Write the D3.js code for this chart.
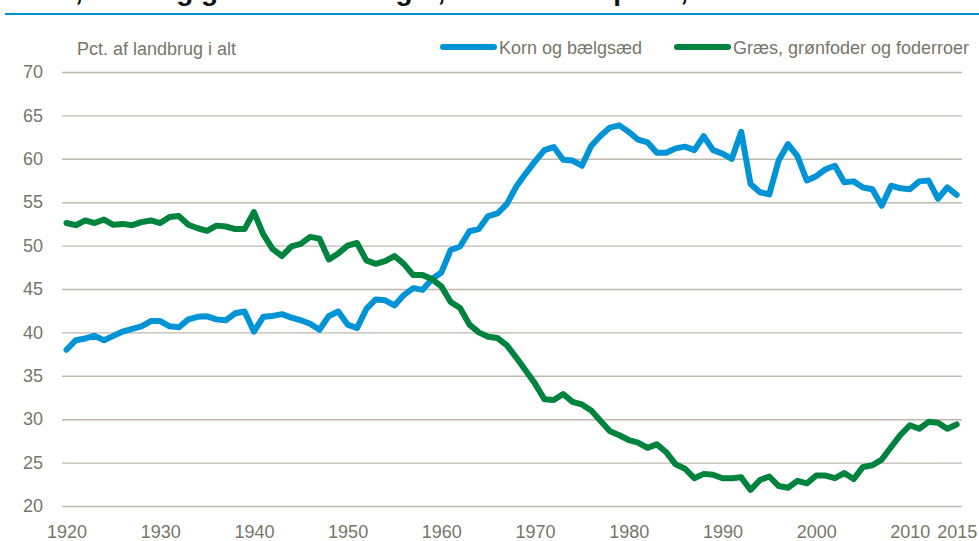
<!DOCTYPE html>
<html>
<head>
<meta charset="utf-8">
<script src="https://cdn.jsdelivr.net/npm/d3@7/dist/d3.min.js"></script>
<style>
  body { margin: 0; background: #fff; }
  svg { display: block; }
  text { font-family: "Liberation Sans Narrow", "Arial Narrow", "Liberation Sans", sans-serif; fill: #76766a; }
  .title { font-family: "Liberation Sans", Arial, sans-serif; font-weight: bold; fill: #111; }
</style>
</head>
<body>
<svg id="chart" width="979" height="541"></svg>
<script>
  // andel af landbrugsarealet, pct., 1920-2015
  var firstYear = 1920, lastYear = 2015;
  var years = d3.range(firstYear, lastYear + 1);

  var korn = [
    38.0, 39.1, 39.3, 39.6, 39.1, 39.6, 40.1, 40.4, 40.7, 41.3,
    41.3, 40.7, 40.6, 41.5, 41.8, 41.85, 41.5, 41.4, 42.2, 42.4,
    40.1, 41.8, 41.9, 42.1, 41.7, 41.4, 41.0, 40.3, 41.9, 42.4,
    40.9, 40.5, 42.7, 43.8, 43.7, 43.1, 44.3, 45.1, 44.9, 46.15,
    46.9, 49.5, 49.9, 51.65, 51.9, 53.4, 53.7, 54.8, 56.8, 58.3,
    59.7, 61.0, 61.35, 59.9, 59.8, 59.2, 61.5, 62.65, 63.6, 63.85,
    63.1, 62.2, 61.9, 60.7, 60.7, 61.2, 61.4, 61.0, 62.6, 61.0,
    60.6, 60.0, 63.1, 57.1, 56.15, 55.9, 59.8, 61.7, 60.3, 57.5,
    58.0, 58.8, 59.2, 57.3, 57.4, 56.7, 56.5, 54.6, 56.9, 56.6,
    56.5, 57.4, 57.5, 55.4, 56.7, 55.85
  ];

  var graes = [
    52.6, 52.35, 52.9, 52.6, 53.0, 52.4, 52.5, 52.35, 52.7, 52.9,
    52.6, 53.3, 53.4, 52.4, 52.0, 51.7, 52.3, 52.2, 51.9, 51.9,
    53.85, 51.3, 49.6, 48.8, 49.9, 50.2, 51.0, 50.8, 48.4, 49.1,
    50.0, 50.3, 48.3, 47.9, 48.2, 48.8, 47.9, 46.6, 46.6, 46.15,
    45.3, 43.5, 42.8, 40.9, 40.0, 39.5, 39.35, 38.5, 37.1, 35.6,
    34.1, 32.3, 32.2, 32.9, 32.0, 31.7, 31.0, 29.8, 28.6, 28.15,
    27.6, 27.3, 26.7, 27.1, 26.2, 24.8, 24.3, 23.2, 23.7, 23.6,
    23.2, 23.2, 23.3, 21.85, 23.0, 23.4, 22.3, 22.1, 22.9, 22.6,
    23.5, 23.5, 23.2, 23.8, 23.1, 24.5, 24.7, 25.35, 26.8, 28.2,
    29.3, 28.9, 29.7, 29.6, 28.9, 29.4
  ];

  var seriesNames = ["Korn og bælgsæd", "Græs, grønfoder og foderroer"];
  var seriesColors = ["#0093d5", "#00843d"];
  var xTicks = [1920, 1930, 1940, 1950, 1960, 1970, 1980, 1990, 2000, 2010, 2015];
  var yTicks = [20, 25, 30, 35, 40, 45, 50, 55, 60, 65, 70];
  var unitLabel = "Pct. af landbrug i alt";
  var titleText = "Areal, korn og græs i landbruget, anvendelse pr. år, 1920-2015";

  var svg = d3.select("#chart");

  var gridLeft = 62, gridRight = 962;
  var x = d3.scaleLinear().domain([firstYear, lastYear]).range([66.5, 956.7]);
  var y = d3.scaleLinear().domain([20, 70]).range([506, 72]);

  // title: only its lower edge shows above the rule, as in the source
  svg.append("text")
    .attr("class", "title")
    .attr("x", 5)
    .attr("y", -0.5)
    .style("font-size", "28px")
    .text(titleText);

  svg.append("line")
    .attr("x1", 5).attr("x2", 979)
    .attr("y1", 14).attr("y2", 14)
    .attr("stroke", "#0090d0")
    .attr("stroke-width", 2.2);

  // y axis with grid
  var yAxis = svg.append("g")
    .attr("transform", "translate(" + gridLeft + ",0)")
    .call(d3.axisLeft(y)
      .tickValues(yTicks)
      .tickSize(-(gridRight - gridLeft))
      .tickPadding(19));

  yAxis.select(".domain").remove();
  yAxis.selectAll(".tick line")
    .attr("stroke", "#bdb9ae")
    .attr("stroke-width", 1.4);
  yAxis.selectAll(".tick text")
    .attr("fill", null)
    .style("font-size", "18px");

  // x axis labels
  var xAxis = svg.append("g")
    .attr("transform", "translate(0,506)")
    .call(d3.axisBottom(x)
      .tickValues(xTicks)
      .tickFormat(d3.format("d"))
      .tickSize(0)
      .tickPadding(19));

  xAxis.select(".domain").remove();
  xAxis.selectAll(".tick text")
    .attr("fill", null)
    .style("font-size", "18px");

  // unit label
  svg.append("text")
    .attr("x", 77)
    .attr("y", 55)
    .style("font-size", "18px")
    .text(unitLabel);

  // lines
  var line = d3.line()
    .x(function (d, i) { return x(years[i]); })
    .y(function (d) { return y(d); });

  [korn, graes].forEach(function (vals, i) {
    svg.append("path")
      .datum(vals)
      .attr("fill", "none")
      .attr("stroke", seriesColors[i])
      .attr("stroke-width", 6)
      .attr("stroke-linejoin", "round")
      .attr("stroke-linecap", "round")
      .attr("d", line);
  });

  // legend
  var legendX = [440, 674];
  seriesNames.forEach(function (name, i) {
    var g = svg.append("g")
      .attr("transform", "translate(" + legendX[i] + ",47)");
    g.append("line")
      .attr("x1", 3).attr("x2", 54)
      .attr("y1", 0).attr("y2", 0)
      .attr("stroke", seriesColors[i])
      .attr("stroke-width", 6)
      .attr("stroke-linecap", "round");
    g.append("text")
      .attr("x", 59)
      .attr("y", 7)
      .style("font-size", "18px")
      .text(name);
  });
</script>
</body>
</html>
